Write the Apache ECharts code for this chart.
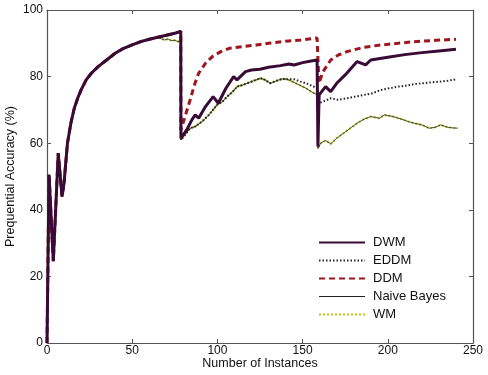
<!DOCTYPE html>
<html>
<head>
<meta charset="utf-8">
<script src="https://cdn.jsdelivr.net/npm/echarts@6/dist/echarts.min.js"></script>
<style>html,body{margin:0;padding:0;background:#fff}#c{width:488px;height:375px}</style>
</head>
<body>
<div id="c"></div>
<script>
// Shared start (all methods coincide)
var earlyX = [0, 1.2, 3.7, 6.6, 8.8, 10, 12, 14, 16, 18, 20, 23, 26, 30, 35, 40, 45, 50, 55, 60, 65];
var earlyY = [0, 50.5, 24.6, 57, 44, 48, 60, 66, 70.5, 73.5, 76, 79, 81, 83, 85, 87, 88.5, 89.5, 90.5, 91.2, 91.8];

var dwmX = [70, 75, 78.5, 78.6, 82, 85, 87, 89, 93, 97.5, 100.5, 105, 109.5, 111.5, 116.5, 120, 125, 130, 137, 142, 145, 150, 155, 158.5, 159, 159.7, 163.5, 166.5, 170, 175, 182, 187, 190, 200, 210, 220, 230, 240];
var dwmY = [92.4, 93, 93.6, 61.5, 64, 67, 68.5, 67.5, 71, 74, 72, 76.5, 80, 79, 81.5, 82, 82.2, 82.8, 83.3, 83.8, 83.5, 84.2, 84.7, 85, 59, 74.5, 77, 75.5, 78, 80.5, 84.5, 83.5, 85, 85.8, 86.6, 87.2, 87.7, 88.2];

var wmX = [67, 69, 71, 73, 75, 77, 78.5, 78.6, 81, 84, 87, 91, 95, 99.8, 103, 105.7, 109, 111.6, 115, 120, 125.3, 128, 131, 135, 138, 141, 144, 148, 152, 155, 158.6, 159, 160.6, 163.5, 166.5, 170, 174, 178, 182, 186, 190, 195, 198, 203, 207.6, 212, 215.5, 220, 224.3, 228, 231, 235, 238, 241];
var wmY = [91.4, 91.0, 91.3, 90.8, 90.9, 90.5, 90.8, 61, 62.5, 64.5, 65, 66.5, 68.5, 71.5, 72.5, 74, 75.5, 77, 77.5, 78.5, 79.5, 79, 78, 78.8, 79.3, 79.2, 78.5, 77.5, 76.5, 75.5, 74.5, 58.4, 60, 60.8, 59.8, 61.5, 63, 64.5, 66, 67.2, 68, 67.5, 68.5, 68, 67.3, 66.5, 66, 65.5, 64.5, 64.8, 65.5, 64.8, 64.6, 64.5];

var nbX = wmX.slice();
var nbY = wmY.slice();

var eddmX = [70, 75, 78.5, 78.6, 81, 84, 87, 91, 95, 99.8, 103, 105.7, 109, 111.6, 115, 120, 125.3, 128, 131, 135, 138, 141, 145, 148.8, 152, 156.5, 158.5, 159.5, 162, 166.5, 171, 176, 181, 186, 191, 196, 201, 206, 211, 216, 221, 226, 231, 236, 240];
var eddmY = [92.4, 93, 93.6, 61, 62.5, 64.5, 65, 66.5, 68.5, 71.5, 72.5, 74, 75.5, 77, 77.5, 78.5, 79.5, 79, 78, 78.8, 79.3, 79.2, 79.2, 78.5, 78, 77, 76.5, 72, 72.5, 73.5, 73, 73.5, 74, 74.5, 75, 76, 76.5, 77, 77.3, 77.8, 78, 78.3, 78.5, 78.8, 79.2];

var ddmX = [70, 75, 78.5, 78.6, 81, 84, 86.5, 89, 93, 97, 102, 107, 115, 123, 130, 140, 149, 158.5, 159.6, 162, 166.5, 171, 176, 186, 196, 206, 215.5, 228, 240];
var ddmY = [92.4, 93, 93.6, 64, 68, 73, 77.5, 81, 84, 86, 87.5, 88.5, 89, 89.5, 90, 90.6, 91, 91.6, 78, 81.5, 85, 86.5, 87.5, 88.8, 89.5, 90, 90.5, 90.9, 91.2];

var xTicks = [0, 50, 100, 150, 200, 250];
var yTicks = [0, 20, 40, 60, 80, 100];

function pairs(xs, ys) { return xs.map(function (x, i) { return [x, ys[i]]; }); }
function withEarly(xs, ys) { return pairs(earlyX.concat(xs), earlyY.concat(ys)); }

var FONT = 'Liberation Sans, Arial, sans-serif';
var chart = echarts.init(document.getElementById('c'), null, { renderer: 'canvas' });
function axisCommon() {
  return {
    axisLine: { show: true, onZero: false, lineStyle: { color: '#555', width: 1.2 } },
    axisTick: { show: true, inside: true, length: 4, lineStyle: { color: '#555' } },
    splitLine: { show: false }
  };
}
chart.setOption({
  animation: false,
  backgroundColor: '#fff',
  grid: { left: 47, right: 15, top: 10, bottom: 32, show: false, containLabel: false, outerBoundsMode: 'none' },
  legend: {
    orient: 'vertical', left: 313, top: 231, itemWidth: 46, itemHeight: 12, itemGap: 5,
    data: ['DWM', 'EDDM', 'DDM', { name: 'Naive Bayes', lineStyle: { width: 1.2 } }, 'WM'],
    itemStyle: { opacity: 0, borderWidth: 0 },
    textStyle: { fontFamily: FONT, fontSize: 13, color: '#111', padding: [0, 0, 0, 3] }
  },
  xAxis: [
    Object.assign({
      type: 'value', min: 0, max: 250, interval: 50, position: 'bottom',
      name: 'Number of Instances', nameLocation: 'middle', nameGap: 14, nameMoveOverlap: false,
      nameTextStyle: { fontFamily: FONT, fontSize: 12.5, color: '#111', verticalAlign: 'top' },
      axisLabel: { fontFamily: FONT, fontSize: 12, color: '#111', margin: 2,
        formatter: function (v) { return xTicks.indexOf(v) >= 0 ? String(v) : ''; } }
    }, axisCommon()),
    Object.assign({
      type: 'value', min: 0, max: 250, interval: 50, position: 'top', axisLabel: { show: false }
    }, axisCommon())
  ],
  yAxis: [
    Object.assign({
      type: 'value', min: 0, max: 100, interval: 20, position: 'left',
      name: 'Prequential Accuracy (%)', nameLocation: 'middle', nameGap: 30, nameMoveOverlap: false,
      nameTextStyle: { fontFamily: FONT, fontSize: 12.5, color: '#111' },
      axisLabel: { fontFamily: FONT, fontSize: 12, color: '#111', margin: 4,
        formatter: function (v) { return yTicks.indexOf(v) >= 0 ? String(v) : ''; } }
    }, axisCommon()),
    Object.assign({
      type: 'value', min: 0, max: 100, interval: 20, position: 'right', axisLabel: { show: false }
    }, axisCommon())
  ],
  series: [
    { name: 'DWM', type: 'line', data: withEarly(dwmX, dwmY), showSymbol: false, symbol: 'none', z: 6,
      color: '#3a0a36', lineStyle: { color: '#3a0a36', width: 3 } },
    { name: 'EDDM', type: 'line', data: withEarly(eddmX, eddmY), showSymbol: false, symbol: 'none', z: 4,
      color: '#222', lineStyle: { color: '#222', width: 2, type: [1.5, 2] } },
    { name: 'DDM', type: 'line', data: withEarly(ddmX, ddmY), showSymbol: false, symbol: 'none', z: 5,
      color: '#a0141c', lineStyle: { color: '#a0141c', width: 3, type: [6, 4] } },
    { name: 'Naive Bayes', type: 'line', data: withEarly(nbX, nbY), showSymbol: false, symbol: 'none', z: 3,
      color: '#222', lineStyle: { color: '#222', width: 0.8 } },
    { name: 'WM', type: 'line', data: withEarly(wmX, wmY), showSymbol: false, symbol: 'none', z: 2,
      color: '#b8cc10', lineStyle: { color: '#b8cc10', width: 2.2, type: [2, 2] } }
  ]
});
</script>
</body>
</html>
